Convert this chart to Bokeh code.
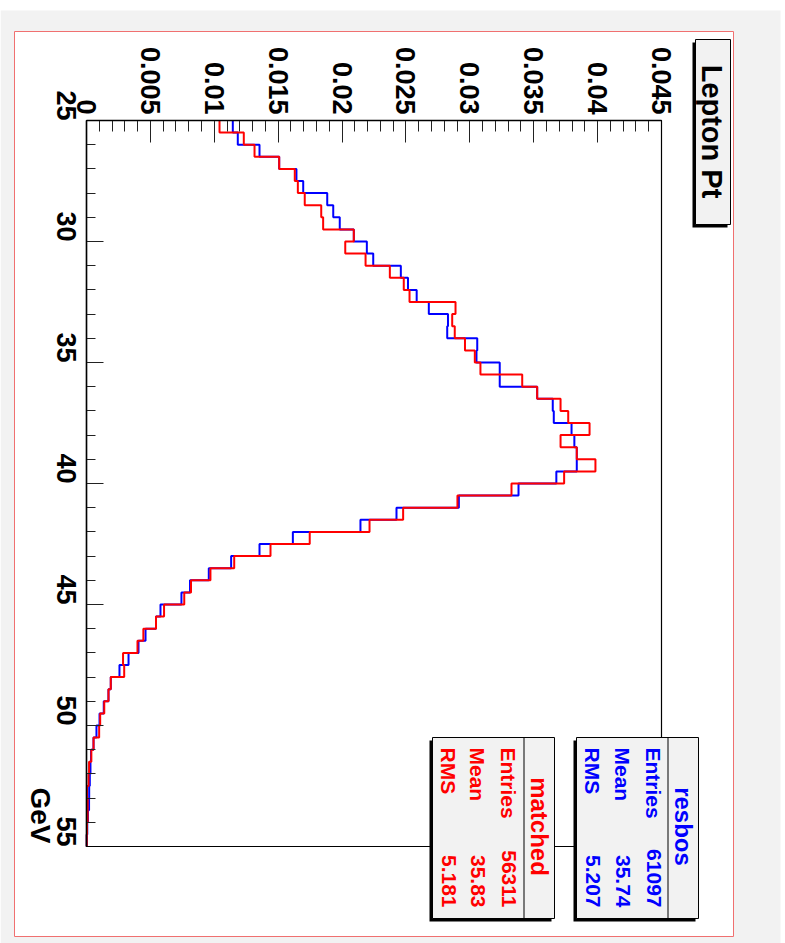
import math
from bokeh.plotting import figure
from bokeh.models import Range1d, FixedTicker, BoxAnnotation, Label
from bokeh.embed import file_html
from bokeh.resources import INLINE

# ---------------- data ----------------
gev_start = 25.0
gev_stop = 55.0
bin_width = 0.5

resbos = [0.01145, 0.01184, 0.01354, 0.01508, 0.01643, 0.01696, 0.01884, 0.01931, 0.01982, 0.02092,
          0.02194, 0.02244, 0.02460, 0.02516, 0.02584, 0.02679, 0.02829, 0.02823, 0.03058, 0.03052,
          0.03234, 0.03234, 0.03527, 0.03649, 0.03657, 0.03796, 0.03818, 0.03837, 0.03837, 0.03677,
          0.03381, 0.02914, 0.02426, 0.02144, 0.01615, 0.01354, 0.01132, 0.00957, 0.00810, 0.00743,
          0.00579, 0.00544, 0.00462, 0.00407, 0.00329, 0.00258, 0.00190, 0.00172, 0.00135, 0.00102,
          0.00078, 0.00055, 0.00035, 0.00031, 0.00026, 0.00021, 0.00020, 0.00012, 0.00006, 0.00002]

matched = [0.01041, 0.01231, 0.01315, 0.01508, 0.01630, 0.01654, 0.01708, 0.01837, 0.01852, 0.02092,
           0.02025, 0.02184, 0.02374, 0.02483, 0.02528, 0.02888, 0.02862, 0.02882, 0.02962, 0.03039,
           0.03083, 0.03410, 0.03527, 0.03710, 0.03770, 0.03937, 0.03710, 0.03837, 0.03983, 0.03738,
           0.03326, 0.02903, 0.02478, 0.02215, 0.01747, 0.01440, 0.01156, 0.00970, 0.00818, 0.00765,
           0.00607, 0.00544, 0.00445, 0.00399, 0.00286, 0.00295, 0.00190, 0.00172, 0.00139, 0.00107,
           0.00099, 0.00055, 0.00038, 0.00020, 0.00016, 0.00004, 0.00009, 0.00009, 0.00004, 0.00002]

value_ticks = [0, 0.005, 0.01, 0.015, 0.02, 0.025, 0.03, 0.035, 0.04, 0.045]
value_tick_labels = ["0", "0.005", "0.01", "0.015", "0.02", "0.025", "0.03", "0.035", "0.04", "0.045"]
value_minor_step = 0.001
gev_ticks = [25, 30, 35, 40, 45, 50, 55]
gev_minor_step = 1

title_text = "Lepton Pt"
axis_title = "GeV"
stat_names = ["Entries", "Mean", "RMS"]
resbos_stats = ["61097", "35.74", "5.207"]
matched_stats = ["56311", "35.83", "5.181"]

# ---------------- layout / styling ----------------
FONT = "Liberation Sans"
GRAY = "#f2f2f2"
W, H = 785, 943
FL, FT, FR, FB = 86, 120, 661, 846   # plot area in canvas pixels

v0, v1 = value_ticks[0], value_ticks[-1]
kx = (v1 - v0) / (FR - FL)
ky = (gev_stop - gev_start) / (FB - FT)

p = figure(width=W, height=H, output_backend="svg", toolbar_location=None,
           x_range=Range1d(v0 - FL * kx, v1 + (W - FR) * kx),
           y_range=Range1d(gev_stop + (H - FB) * ky, gev_start - FT * ky),
           x_axis_location="above",
           min_border=0, min_border_left=0, min_border_right=0,
           min_border_top=0, min_border_bottom=0)
p.grid.visible = False
p.background_fill_color = "white"
p.border_fill_color = "white"
p.outline_line_color = None


def cbox(l, t, r, b, **kw):
    kw.setdefault("line_alpha", 1)
    return BoxAnnotation(left=l, right=r, top=t, bottom=b,
                         left_units="canvas", right_units="canvas",
                         top_units="canvas", bottom_units="canvas", **kw)


def clabel(x, y, text, size, color="black", align="left", **kw):
    return Label(x=x, y=y, x_units="canvas", y_units="canvas", text=text,
                 angle=-math.pi / 2, text_align=align, text_baseline="middle",
                 text_font=FONT, text_font_style="bold", text_font_size=f"{size}px",
                 text_color=color, **kw)


# page background & canvas
p.add_layout(cbox(0, 10, 780, H, fill_color=GRAY, fill_alpha=1, line_color=None, level="image"))
p.add_layout(cbox(14, 31, 733, 936, fill_color="white", fill_alpha=1,
                  line_color="#f07070", line_width=1, level="image"))

# axes (drawn at the plot-area edges)
xa = p.xaxis[0]
nmin = int(round((v1 - v0) / value_minor_step))
xa.ticker = FixedTicker(ticks=value_ticks,
                        minor_ticks=[round(v0 + k * value_minor_step, 4) for k in range(nmin + 1)])
xa.major_label_overrides = {t: s for t, s in zip(value_ticks, value_tick_labels)}
xa.fixed_location = gev_start
xa.bounds = (v0, v1)
xa.major_tick_in = 22
xa.major_tick_out = 0
xa.minor_tick_in = 11
xa.minor_tick_out = 0
xa.major_label_standoff = 6

ya = p.yaxis[0]
ya.ticker = FixedTicker(ticks=gev_ticks,
                        minor_ticks=list(range(gev_ticks[0], gev_ticks[-1] + 1, gev_minor_step)))
ya.fixed_location = v0
ya.bounds = (gev_start, gev_stop)
ya.major_tick_in = 17
ya.major_tick_out = 0
ya.minor_tick_in = 9
ya.minor_tick_out = 0
ya.major_label_standoff = 20

for ax in (xa, ya):
    ax.major_label_orientation = -math.pi / 2
    ax.major_label_text_font = FONT
    ax.major_label_text_font_style = "bold"
    ax.major_label_text_font_size = "27px"
    ax.major_label_text_color = "black"
    ax.axis_line_color = "black"
    ax.axis_line_width = 1.5
    ax.major_tick_line_color = "#222222"
    ax.minor_tick_line_color = "#222222"


# histogram step outlines (value on horizontal, GeV on vertical)
def step_path(vals):
    xs, ys = [], []
    for i, v in enumerate(vals):
        lo = gev_start + i * bin_width
        xs += [v, v]
        ys += [lo, lo + bin_width]
    return xs, ys


bx, by = step_path(resbos)
p.line(bx, by, line_color="#0000ff", line_width=2)
rx, ry = step_path(matched)
p.line(rx, ry, line_color="#ff0000", line_width=2)

# frame outline of the plot area
p.add_layout(BoxAnnotation(left=v0, right=v1, top=gev_start, bottom=gev_stop,
                           fill_alpha=0, line_color="black", line_alpha=1, line_width=1.2))

# axis title
p.add_layout(clabel(40, 843, axis_title, 28, align="right"))

# title box
p.add_layout(cbox(692, 42, 727, 227, fill_color="black", fill_alpha=1, line_color=None))
p.add_layout(cbox(695, 39, 730, 224, fill_color=GRAY, fill_alpha=1, line_color="black", line_width=1))
p.add_layout(clabel(711, 131, title_text, 29, align="center"))


# stats boxes
def stats_box(left, right, sep, title, values, color, title_x, row_xs):
    top, bottom = 737, 918
    p.add_layout(cbox(left - 3, top + 3, right - 3, bottom + 3, fill_color="black", fill_alpha=1, line_color=None))
    p.add_layout(cbox(left, top, right, bottom, fill_color=GRAY, fill_alpha=1, line_color="black", line_width=1))
    p.add_layout(cbox(sep, top, sep + 1, bottom, fill_color="black", fill_alpha=1, line_color=None))
    p.add_layout(clabel(title_x, 826, title, 24, color=color, align="center"))
    for name, val, x in zip(stat_names, values, row_xs):
        p.add_layout(clabel(x, 747, name, 21, color=color, align="left"))
        p.add_layout(clabel(x, 907, val, 21, color=color, align="right"))


stats_box(576, 698, 667, "resbos", resbos_stats, "#0000ff", 683, [653, 622, 592])
stats_box(432, 554, 523, "matched", matched_stats, "#ff0000", 539, [508, 477, 448])

open("out.html", "w").write(file_html(p, INLINE))
